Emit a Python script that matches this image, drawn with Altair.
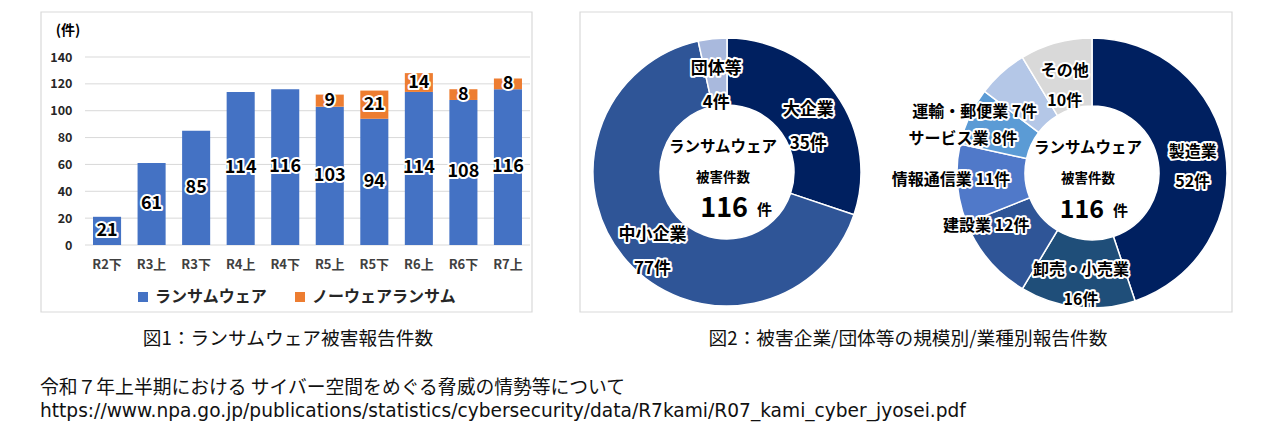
import altair as alt
import pandas as pd

FONT = "Noto Sans CJK JP"

# ---------------- data ----------------
periods = ["R2下", "R3上", "R3下", "R4上", "R4下", "R5上", "R5下", "R6上", "R6下", "R7上"]
ransomware = [21, 61, 85, 114, 116, 103, 94, 114, 108, 116]
noware = [0, 0, 0, 0, 0, 9, 21, 14, 8, 8]
series_names = ["ランサムウェア", "ノーウェアランサム"]
bar_colors = ["#4472C4", "#ED7D31"]
y_ticks = [0, 20, 40, 60, 80, 100, 120, 140]

size_names = ["大企業", "中小企業", "団体等"]
size_counts = [35, 77, 4]
size_colors = ["#002060", "#2F5597", "#A9B9DD"]

ind_names = ["製造業", "卸売・小売業", "建設業", "情報通信業", "サービス業", "運輸・郵便業", "その他"]
ind_counts = [52, 16, 12, 11, 8, 7, 10]
ind_colors = ["#002060", "#1F4E79", "#2F5597", "#5079C9", "#5B9BD5", "#B4C7E7", "#D9D9D9"]

center_title = "ランサムウェア"
center_sub = "被害件数"
unit = "件"
y_unit = "(件)"
caption1 = "図1：ランサムウェア被害報告件数"
caption2 = "図2：被害企業/団体等の規模別/業種別報告件数"
source1 = "令和７年上半期における サイバー空間をめぐる脅威の情勢等について"
source2 = "https://www.npa.go.jp/publications/statistics/cybersecurity/data/R7kami/R07_kami_cyber_jyosei.pdf"

# ---------------- tables ----------------
rows = []
for i, p in enumerate(periods):
    for k, (s, vals) in enumerate(zip(series_names, [ransomware, noware])):
        base = 0 if k == 0 else ransomware[i]
        v = vals[i]
        rows.append(dict(period=p, series=s, v=v, k=k, mid=base + v / 2,
                         lab=str(v) if v > 0 else ""))
bar_df = pd.DataFrame(rows)
grid_df = pd.DataFrame(dict(t=y_ticks))

ONE = alt.Data(values=[{}])


def txt(x, y, text, size, weight="bold", align="center", color="#000000", font=FONT):
    return alt.Chart(ONE).mark_text(
        font=font, fontSize=size, fontWeight=weight, align=align, baseline="middle", color=color
    ).encode(x=alt.value(x), y=alt.value(y), text=alt.value(text))


def box(x0, y0, x1, y1):
    return alt.Chart(ONE).mark_rect(fill="white", stroke="#D9D9D9", strokeWidth=1.2).encode(
        x=alt.value(x0), x2=alt.value(x1), y=alt.value(y0), y2=alt.value(y1))


# ---------------- bar chart ----------------
xscale = alt.Scale(domain=periods, range=[85, 530], paddingInner=0.37, paddingOuter=0.18)
yscale = alt.Scale(domain=[0, 140], range=[245, 57], nice=False)
y_axis = alt.Axis(orient="left", offset=-72, values=y_ticks, ticks=False, domain=False,
                  labelPadding=0, grid=False, labelFont=FONT, labelFontSize=12.5, zindex=2,
                  labelFontWeight="bold", labelColor="#262626", title=None)

grid = alt.Chart(grid_df).mark_rule(color="#D9D9D9", strokeWidth=1).encode(
    y=alt.Y("t:Q", scale=yscale, axis=y_axis, title=None), x=alt.value(85), x2=alt.value(530))

bars = alt.Chart(bar_df).mark_bar().encode(
    x=alt.X("period:N", sort=periods, scale=xscale, title=None,
            axis=alt.Axis(orient="bottom", offset=-183, ticks=False, domain=False, labelPadding=13,
                          labelFont=FONT, labelFontSize=13, labelFontWeight="bold", zindex=2,
                          labelColor="#404040", labelAngle=0, grid=False)),
    y=alt.Y("v:Q", stack="zero", scale=yscale, title=None, axis=y_axis),
    color=alt.Color("series:N", scale=alt.Scale(domain=series_names, range=bar_colors),
                    legend=alt.Legend(orient="none", legendX=135, legendY=289, direction="horizontal",
                                      title=None, symbolType="square", symbolSize=100,
                                      symbolStrokeWidth=0, labelFont=FONT, labelFontSize=16,
                                      labelFontWeight="bold", labelColor="#262626",
                                      columnPadding=24, labelOffset=4, padding=0)),
    order=alt.Order("k:Q"),
)

lab_common = dict(x=alt.X("period:N", sort=periods, scale=xscale),
                  y=alt.Y("mid:Q", scale=yscale), text="lab:N")
bar_halo = alt.Chart(bar_df).mark_text(font=FONT, fontSize=18, fontWeight="bold", stroke="white",
                                       strokeWidth=4, strokeJoin="round", fill="white").encode(**lab_common)
bar_lab = alt.Chart(bar_df).mark_text(font=FONT, fontSize=18, fontWeight="bold",
                                      fill="#000000").encode(**lab_common)

bar_group = alt.layer(grid, bars, bar_halo, bar_lab)


# ---------------- donuts ----------------
def donut(names, counts, colors, cx, cy, r_out, r_in, r_lab, lh, fsize, single_left, r_single,
          big_size, dy2, big_dx):
    total = sum(counts)
    cum = 0
    recs = []
    for i, (nm, c) in enumerate(zip(names, counts)):
        mid = (cum + c / 2) / total * 360
        cum += c
        left = single_left and 200 < mid < 330
        recs.append(dict(name=nm, n=c, idx=i,
                         two="" if left else f"{nm}\n{c}{unit}",
                         one=f"{nm}  {c}{unit}" if left else ""))
    df = pd.DataFrame(recs)
    th = alt.Theta("n:Q", stack=True)
    od = alt.Order("idx:Q")
    pos = dict(x=alt.value(cx), y=alt.value(cy))
    arcs = alt.Chart(df).mark_arc(radius=r_out, radius2=r_in, stroke="white", strokeWidth=1.5).encode(
        theta=th, order=od,
        color=alt.Color("name:N", scale=alt.Scale(domain=names, range=colors), legend=None), **pos)
    layers = [arcs]
    for field, align, rr, ddy in [("two", "center", r_lab, dy2), ("one", "right", r_single, 0)]:
        common = dict(font=FONT, fontSize=fsize, fontWeight="bold", align=align, baseline="middle",
                      radius=rr, lineBreak="\n", lineHeight=lh, dy=ddy)
        layers.append(alt.Chart(df).mark_text(stroke="white", strokeWidth=4, strokeJoin="round",
                                              fill="white", **common).encode(
            theta=th, order=od, text=f"{field}:N", **pos))
        layers.append(alt.Chart(df).mark_text(fill="#000000", **common).encode(
            theta=th, order=od, text=f"{field}:N", **pos))
    layers += [
        txt(cx - 4, cy - 25, center_title, 15.5),
        txt(cx - 4, cy + 6, center_sub, 13.5),
        txt(cx + big_dx, cy + 37, str(total), big_size, align="right"),
        txt(cx + big_dx + 9, cy + 38, unit, 15, align="left"),
    ]
    return alt.layer(*layers)


donut1 = donut(size_names, size_counts, size_colors, 727, 172, 134, 67, 100, 34, 17, False, 90,
               27, -4, 21)
donut2 = donut(ind_names, ind_counts, ind_colors, 1092, 173, 135, 67, 102, 30, 16, True, 82,
               25, -4, 12)

texts = alt.layer(
    txt(68, 31, y_unit, 14),
    txt(288, 339, caption1, 18.7, weight="normal", color="#111111"),
    txt(908, 339, caption2, 18.7, weight="normal", color="#111111"),
    txt(40, 388, source1, 18.8, weight="normal", align="left", color="#111111"),
    txt(40, 411, source2, 18.6, weight="normal", align="left", color="#111111", font="DejaVu Sans"),
)

chart = alt.layer(
    box(41, 12, 532, 312), box(580, 12, 1232, 312),
    bar_group, donut1, donut2, texts,
).resolve_scale(color="independent", theta="independent").properties(
    width=1264, height=428, padding=0, autosize=alt.AutoSizeParams(type="none"), background="white"
).configure_view(strokeWidth=0)

chart.save("out.html", embed_options={"renderer": "svg", "actions": False})
